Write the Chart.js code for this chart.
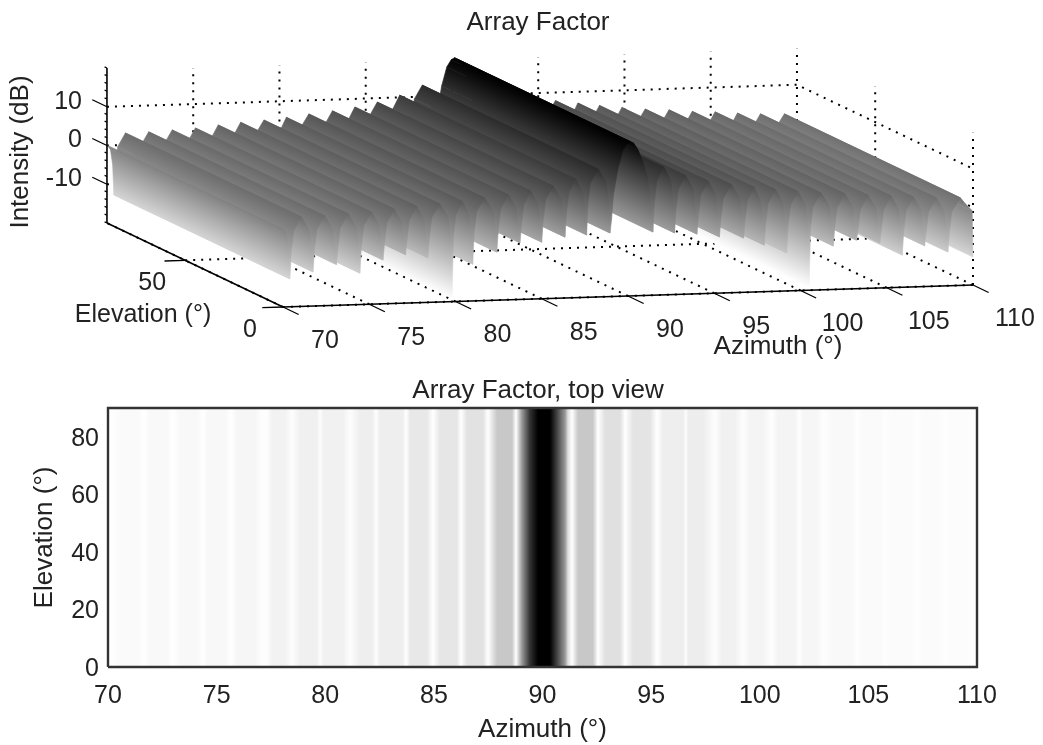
<!DOCTYPE html>
<html>
<head>
<meta charset="utf-8">
<title>Array Factor</title>
<script src="https://cdn.jsdelivr.net/npm/chart.js@4"></script>
<style>
  html, body { margin: 0; padding: 0; background: #fff; overflow: hidden; }
  #wrap { position: relative; width: 1043px; height: 745px; }
  #surfaceBox { position: absolute; left: 0; top: 0; width: 1043px; height: 375px; }
  #topBox { position: absolute; left: 29px; top: 375px; width: 1014px; height: 370px; }
</style>
</head>
<body>
<div id="wrap">
  <div id="surfaceBox"><canvas id="surface"></canvas></div>
  <div id="topBox"><canvas id="topView"></canvas></div>
</div>
<script>
// values, one row per lobe
const azimuth = [
  70, 70.2, 70.33,
  70.4, 70.48, 70.62, 71.07, 71.52, 71.66,
  71.74, 71.82, 71.96, 72.42, 72.88, 73.02,
  73.1, 73.18, 73.32, 73.78, 74.24, 74.38,
  74.46, 74.54, 74.68, 75.13, 75.58, 75.72,
  75.8, 75.88, 76.02, 76.45, 76.88, 77.02,
  77.1, 77.18, 77.32, 77.75, 78.18, 78.32,
  78.4, 78.48, 78.62, 79.1, 79.58, 79.72,
  79.8, 79.88, 80.02, 80.4, 80.78, 80.92,
  81, 81.08, 81.22, 81.7, 82.18, 82.32,
  82.4, 82.48, 82.62, 83.07, 83.52, 83.66,
  83.74, 83.82, 83.96, 84.37, 84.78, 84.92,
  85, 85.08, 85.22, 85.67, 86.13, 86.27,
  86.35, 86.43, 86.57, 86.97, 87.38, 87.52,
  87.6, 87.68, 87.82, 88.28, 88.74, 88.88,
  88.96, 89.05, 89.15, 89.4, 89.7, 89.95, 90.15, 90.35, 90.6, 90.9, 91.15, 91.3,
  91.45, 91.53, 91.67, 92.07, 92.48, 92.62,
  92.7, 92.78, 92.92, 93.35, 93.78, 93.92,
  94, 94.08, 94.22, 94.65, 95.08, 95.22,
  95.3, 95.38, 95.52, 96, 96.48, 96.62,
  96.7, 96.78, 96.92, 97.3, 97.68, 97.82,
  97.9, 97.98, 98.12, 98.55, 98.98, 99.12,
  99.2, 99.28, 99.42, 99.85, 100.28, 100.42,
  100.5, 100.58, 100.72, 101.2, 101.68, 101.82,
  101.9, 101.98, 102.12, 102.58, 103.03, 103.17,
  103.25, 103.33, 103.47, 103.93, 104.38, 104.52,
  104.6, 104.68, 104.82, 105.25, 105.68, 105.82,
  105.9, 105.98, 106.12, 106.55, 106.98, 107.12,
  107.2, 107.28, 107.42, 107.88, 108.33, 108.47,
  108.55, 108.63, 108.77, 109.27, 109.6, 109.95,
  110
];
const intensityDb = [
  0.1, -1, -5,
  -12.8, -5.9, -0.4, 3.1, -0.4, -5.9,
  -11.2, -5.8, -0.3, 3.2, -0.3, -5.8,
  -9.5, -5.5, 0, 3.5, 0, -5.5,
  -11.9, -5.2, 0.3, 3.8, 0.3, -5.2,
  -8.7, -4.6, 0.9, 4.4, 0.9, -4.6,
  -7.5, -4.1, 1.4, 4.9, 1.4, -4.1,
  -8.5, -3.7, 1.8, 5.3, 1.8, -3.7,
  -19.1, -3.2, 2.3, 5.8, 2.3, -3.2,
  -10.5, -2.5, 3, 6.5, 3, -2.5,
  -7.6, -1.9, 3.6, 7.1, 3.6, -1.9,
  -5.4, -1.1, 4.4, 7.9, 4.4, -1.1,
  -5.4, 0, 5.5, 9, 5.5, 0,
  -4.3, 1.6, 7.1, 10.6, 7.1, 1.6,
  -3.9, 4, 9.5, 13, 9.5, 4,
  -3.6, 0, 6, 12.6, 17.5, 19.3, 19.8, 19.3, 17.5, 14, 10, 4,
  -3.7, 4, 9.5, 13, 9.5, 4,
  -4.1, 1.6, 7.1, 10.6, 7.1, 1.6,
  -4.6, 0, 5.5, 9, 5.5, 0,
  -5.5, -1.1, 4.4, 7.9, 4.4, -1.1,
  -6, -1.9, 3.6, 7.1, 3.6, -1.9,
  -8, -2.7, 2.8, 6.3, 2.8, -2.7,
  -10.2, -3.4, 2.1, 5.6, 2.1, -3.4,
  -19.5, -4, 1.5, 5, 1.5, -4,
  -8.8, -4.4, 1.1, 4.6, 1.1, -4.4,
  -7.5, -5, 0.5, 4, 0.5, -5,
  -8.4, -5.3, 0.2, 3.7, 0.2, -5.3,
  -11.7, -5.8, -0.3, 3.2, -0.3, -5.8,
  -9.5, -6.2, -0.7, 2.8, -0.7, -6.2,
  -11.3, -6.4, -0.9, 2.6, 0.8, -0.8,
  -12.8
];
// flat view, read separately: azimuth of each stripe edge and its grey level
const topAzimuth = [
  70, 70.09, 70.64, 71.38, 71.66, 71.93, 72.72, 72.99, 73.31, 74.1, 74.37, 74.6, 75.39, 75.66,
  75.94, 76.77, 77.04, 77.32, 77.55, 78.15, 78.47, 78.84, 79.62, 79.76, 79.9, 80.82, 81.14,
  81.6, 82.15, 82.34, 82.52, 83.44, 83.58, 83.72, 83.9, 84.68, 84.96, 85.28, 86.06, 86.25,
  86.52, 87.26, 87.49, 87.91, 88.6, 88.78,
  89.06, 89.42, 89.79, 90.35, 90.67, 91.04, 91.17, 91.36,
  91.63, 92.32, 92.55, 92.88, 93.57, 93.8, 94.17, 94.95, 95.27, 95.55, 96.47, 96.61,
  96.7, 97.39, 97.94, 98.26, 98.86, 99.23, 99.55, 100.15, 100.56, 100.84, 101.62, 101.81,
  101.99, 102.64, 102.91, 103.37, 104.25, 104.48, 104.71, 105.54, 105.77, 106, 106.92, 107.24,
  107.47, 108.21, 108.53, 108.76, 109.54, 109.77, 110
];
const topGrey = [
  255, 255, 250, 250, 255, 249, 249, 255, 248, 248, 255, 248, 248, 255,
  246, 246, 253, 253, 242, 242, 253, 240, 240, 253, 241, 241, 253,
  238, 238, 253, 238, 238, 239, 255, 232, 232, 255, 230, 230, 255,
  226, 226, 255, 200, 200, 255,
  150, 50, 0, 0, 68, 153, 221, 255,
  200, 200, 255, 224, 224, 255, 228, 228, 255, 238, 238, 253,
  237, 237, 253, 241, 241, 253, 244, 244, 254, 244, 244, 254,
  246, 246, 254, 249, 249, 254, 250, 250, 254, 251, 251, 254,
  251, 251, 254, 252, 252, 254, 254
];
const azimuthTicks = [70, 75, 80, 85, 90, 95, 100, 105, 110];
const elevationTicks = [0, 50];
const intensityTicks = [-10, 0, 10];
const intensityMinorTicks = [-20, -18, -16, -14, -12, -8, -6, -4, -2, 2, 4, 6, 8, 12, 14, 16, 18, 20];

const FONT = "'Liberation Sans', Arial, sans-serif";
const TEXT = "#222";
Chart.defaults.font.family = FONT;
Chart.defaults.font.size = 25;
Chart.defaults.color = TEXT;
Chart.defaults.animation = false;

// 3D view: azimuth / elevation / dB onto the picture plane
function project(az, el, db) {
  return {
    x: 283 + 17.25 * (az - 70) - 1.956 * el,
    y: 307 - 0.55 * (az - 70) - 0.933 * el - 3.875 * (db + 20)
  };
}

function surfaceGrey(db) {
  const v = Math.round((19.8 - db) * 6.5);
  return Math.max(0, Math.min(255, v));
}
function greyCss(v) { return "rgb(" + v + "," + v + "," + v + ")"; }

// shading of one surface strip, iso lines run along the elevation direction
function stripFill(ctx, i) {
  const chart = ctx.chart;
  const c1 = greyCss(surfaceGrey(intensityDb[i]));
  const c2 = greyCss(surfaceGrey(intensityDb[i + 1]));
  if (!chart.chartArea) return c1;
  const sx = chart.scales.x, sy = chart.scales.y;
  const a = project(azimuth[i], 0, intensityDb[i]);
  const b = project(azimuth[i + 1], 0, intensityDb[i + 1]);
  const ax = sx.getPixelForValue(a.x), ay = sy.getPixelForValue(a.y);
  const bx = sx.getPixelForValue(b.x), by = sy.getPixelForValue(b.y);
  const nx = 0.4305, ny = -0.9026;
  const d = (bx - ax) * nx + (by - ay) * ny;
  if (Math.abs(d) < 0.01) return c1;
  const g = chart.ctx.createLinearGradient(ax, ay, ax + d * nx, ay + d * ny);
  g.addColorStop(0, c1);
  g.addColorStop(1, c2);
  return g;
}

function stripDataset(i) {
  const p = [
    project(azimuth[i], 0, intensityDb[i]),
    project(azimuth[i + 1], 0, intensityDb[i + 1]),
    project(azimuth[i + 1], 90, intensityDb[i + 1]),
    project(azimuth[i], 90, intensityDb[i]),
    project(azimuth[i], 0, intensityDb[i])
  ];
  return {
    data: p,
    fill: "shape",
    backgroundColor: (ctx) => stripFill(ctx, i),
    borderColor: (ctx) => stripFill(ctx, i),
    borderWidth: 0.6,
    pointRadius: 0
  };
}

function lineDataset(points, dotted, width) {
  return {
    data: points,
    borderColor: "#000",
    borderWidth: width || (dotted ? 2 : 1.6),
    borderDash: dotted ? [2, 6] : [],
    pointRadius: 0,
    fill: false
  };
}

const solid = [];
const dots = [];
const DB_MIN = -20, DB_MAX = 20, AZ_MIN = 70, AZ_MAX = 110, EL_MAX = 90;
const DOT_TOP = 19.3;

// box edges
solid.push(lineDataset([project(AZ_MIN, EL_MAX, DB_MIN), project(AZ_MIN, EL_MAX, DB_MAX)]));
solid.push(lineDataset([project(AZ_MIN, EL_MAX, DB_MIN), project(AZ_MIN, 0, DB_MIN)]));
solid.push(lineDataset([project(AZ_MIN, 0, DB_MIN), project(AZ_MAX, 0, DB_MIN)]));

// tick marks
azimuthTicks.forEach((az) => {
  solid.push(lineDataset([project(az, 0, DB_MIN), project(az, -8, DB_MIN)], false, 1.3));
  dots.push(lineDataset([project(az, 0, DB_MIN), project(az, EL_MAX, DB_MIN)], true));
  if (az > AZ_MIN) dots.push(lineDataset([project(az, EL_MAX, DB_MIN), project(az, EL_MAX, DOT_TOP)], true));
});
elevationTicks.forEach((el) => {
  solid.push(lineDataset([project(AZ_MIN, el, DB_MIN), project(68.8, el, DB_MIN)], false, 1.3));
  dots.push(lineDataset([project(AZ_MIN, el, DB_MIN), project(AZ_MAX, el, DB_MIN)], true));
  dots.push(lineDataset([project(AZ_MAX, el, DB_MIN), project(AZ_MAX, el, DOT_TOP)], true));
});
intensityTicks.forEach((db) => {
  solid.push(lineDataset([project(AZ_MIN, EL_MAX, db), project(AZ_MIN, 97.5, db)], false, 1.3));
  dots.push(lineDataset([project(AZ_MIN, EL_MAX, db), project(AZ_MAX, EL_MAX, db), project(AZ_MAX, 0, db)], true));
});
intensityMinorTicks.forEach((db) => {
  solid.push(lineDataset([project(AZ_MIN, EL_MAX, db), project(AZ_MIN, 91.2, db)], false, 1.3));
});

// near strips first: the first dataset ends up on top
const strips = [];
for (let i = 0; i < azimuth.length - 1; i++) strips.push(stripDataset(i));

const labels3d = {
  id: "labels3d",
  afterDatasetsDraw(chart) {
    const c = chart.ctx, sx = chart.scales.x, sy = chart.scales.y;
    const put = (text, x, y, rot) => {
      c.save();
      c.translate(sx.getPixelForValue(x), sy.getPixelForValue(y));
      if (rot) c.rotate(rot);
      c.fillText(text, 0, 0);
      c.restore();
    };
    c.save();
    c.font = "25px " + FONT;
    c.fillStyle = TEXT;
    c.textAlign = "center";
    c.textBaseline = "middle";
    azimuthTicks.forEach((az) => {
      const p = project(az, 0, DB_MIN);
      put(String(az), p.x + 42, p.y + 34);
    });
    elevationTicks.forEach((el) => {
      const p = project(AZ_MIN, el, DB_MIN);
      put(String(el), p.x - 33, p.y + 23);
    });
    put("Elevation (°)", 143, 315);
    c.textAlign = "right";
    intensityTicks.forEach((db) => {
      const p = project(AZ_MIN, EL_MAX, db);
      put(String(db), p.x - 25, p.y - 5);
    });
    c.textAlign = "center";
    c.font = "26px " + FONT;
    put("Intensity (dB)", 21, 152, -Math.PI / 2);
    put("Azimuth (°)", 778, 347);
    c.restore();
  }
};

new Chart(document.getElementById("surface"), {
  type: "line",
  data: { datasets: solid.concat(strips, dots) },
  plugins: [labels3d],
  options: {
    responsive: true,
    maintainAspectRatio: false,
    layout: { padding: { left: 33 } },
    scales: {
      x: { type: "linear", display: false, min: 33, max: 1043 },
      y: { type: "linear", display: false, min: 40, max: 375, reverse: true }
    },
    plugins: {
      legend: { display: false },
      tooltip: { enabled: false },
      title: {
        display: true,
        text: "Array Factor",
        fullSize: false,
        color: TEXT,
        font: { size: 26, weight: "normal" },
        padding: { top: 7, bottom: 1.8 }
      }
    }
  }
});

function topViewFill(ctx) {
  const chart = ctx.chart;
  if (!chart.chartArea) return "#fff";
  const sx = chart.scales.x;
  const g = chart.ctx.createLinearGradient(sx.getPixelForValue(AZ_MIN), 0, sx.getPixelForValue(AZ_MAX), 0);
  topAzimuth.forEach((az, i) => {
    g.addColorStop((az - AZ_MIN) / (AZ_MAX - AZ_MIN), greyCss(topGrey[i]));
  });
  return g;
}

// the title sits a little left of the plot centre in the reference
const titleNudge = {
  id: "titleNudge",
  afterLayout(chart) {
    chart.titleBlock.left -= 4.5;
    chart.titleBlock.right -= 4.5;
  }
};

new Chart(document.getElementById("topView"), {
  type: "line",
  data: {
    datasets: [
      {
        data: [{ x: AZ_MIN, y: 0 }, { x: AZ_MAX, y: 0 }, { x: AZ_MAX, y: EL_MAX }, { x: AZ_MIN, y: EL_MAX }, { x: AZ_MIN, y: 0 }],
        borderColor: "#333",
        borderWidth: 2.4,
        pointRadius: 0,
        fill: false,
        clip: false
      },
      {
        data: topAzimuth.map((az) => ({ x: az, y: EL_MAX })),
        fill: "origin",
        backgroundColor: topViewFill,
        borderWidth: 0,
        pointRadius: 0
      }
    ]
  },
  plugins: [titleNudge],
  options: {
    responsive: true,
    maintainAspectRatio: false,
    layout: { padding: { left: 0, right: 66, top: 0, bottom: 0 } },
    scales: {
      x: {
        type: "linear",
        min: AZ_MIN,
        max: AZ_MAX,
        afterFit(s) { s.height = 78; },
        grid: { display: false },
        border: { display: false },
        ticks: { stepSize: 5, maxRotation: 0, padding: 6, color: TEXT, autoSkip: false },
        title: { display: true, text: "Azimuth (°)", color: TEXT, font: { size: 26 }, padding: { top: 0, bottom: 0 } }
      },
      y: {
        type: "linear",
        min: 0,
        max: EL_MAX,
        afterFit(s) { s.width = 79; },
        grid: { display: false },
        border: { display: false },
        ticks: { stepSize: 20, includeBounds: false, padding: 1, labelOffset: 2, color: TEXT },
        title: { display: true, text: "Elevation (°)", color: TEXT, font: { size: 26 }, padding: { top: 0, bottom: 0 } }
      }
    },
    plugins: {
      legend: { display: false },
      tooltip: { enabled: false },
      title: {
        display: true,
        text: "Array Factor, top view",
        fullSize: false,
        color: TEXT,
        font: { size: 26, weight: "normal" },
        padding: { top: 0, bottom: 1.8 }
      }
    }
  }
});
</script>
</body>
</html>
